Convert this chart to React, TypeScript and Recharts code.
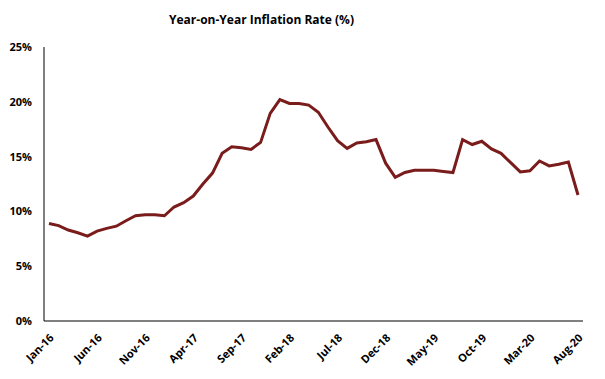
import React from 'react';
import { LineChart, Line, XAxis, YAxis } from 'recharts';

const months = [
  'Jan-16','Feb-16','Mar-16','Apr-16','May-16','Jun-16','Jul-16','Aug-16','Sep-16','Oct-16','Nov-16','Dec-16',
  'Jan-17','Feb-17','Mar-17','Apr-17','May-17','Jun-17','Jul-17','Aug-17','Sep-17','Oct-17','Nov-17','Dec-17',
  'Jan-18','Feb-18','Mar-18','Apr-18','May-18','Jun-18','Jul-18','Aug-18','Sep-18','Oct-18','Nov-18','Dec-18',
  'Jan-19','Feb-19','Mar-19','Apr-19','May-19','Jun-19','Jul-19','Aug-19','Sep-19','Oct-19','Nov-19','Dec-19',
  'Jan-20','Feb-20','Mar-20','Apr-20','May-20','Jun-20','Jul-20','Aug-20',
];

const inflation = [
  8.9, 8.7, 8.3, 8.05, 7.75, 8.2, 8.45, 8.65, 9.15, 9.6, 9.7, 9.7,
  9.6, 10.4, 10.8, 11.4, 12.5, 13.5, 15.3, 15.9, 15.8, 15.65, 16.3, 18.95,
  20.2, 19.85, 19.85, 19.7, 19.05, 17.7, 16.45, 15.75, 16.25, 16.35, 16.55, 14.4,
  13.1, 13.55, 13.75, 13.75, 13.75, 13.65, 13.55, 16.55, 16.1, 16.4, 15.7, 15.3,
  14.45, 13.6, 13.7, 14.6, 14.15, 14.3, 14.5, 11.5,
];

const yTicks = [0, 5, 10, 15, 20, 25];

const data = months.map((m, i) => ({ month: m, value: inflation[i] }));

const FONT = '"Open Sans", "Liberation Sans", sans-serif';

export default function App() {
  return (
    <div style={{ position: 'absolute', left: 0, top: 0, width: 605, height: 379, background: '#fff' }}>
      <div
        style={{
          position: 'absolute', left: 0, top: 11, width: 523, textAlign: 'center',
          fontFamily: FONT, fontWeight: 'bold', fontSize: 12, color: '#000',
        }}
      >
        Year-on-Year Inflation Rate (%)
      </div>
      <LineChart
        width={605}
        height={379}
        data={data}
        margin={{ top: 47, right: 22, bottom: 0, left: 0 }}
      >
        <XAxis
          dataKey="month"
          interval={4}
          angle={-45}
          textAnchor="end"
          height={58}
          tickLine={false}
          tickSize={0}
          tickMargin={12}
          padding={{ left: 5, right: 5 }}
          axisLine={{ stroke: '#000', strokeWidth: 1 }}
          tick={{ fill: '#000', fontSize: 11, fontWeight: 'bold', fontFamily: FONT }}
        />
        <YAxis
          domain={[0, 25]}
          ticks={yTicks}
          width={44}
          tickLine={false}
          tickSize={0}
          tickMargin={12}
          tickFormatter={(v: number) => `${v}%`}
          axisLine={{ stroke: '#000', strokeWidth: 1 }}
          tick={{ fill: '#000', fontSize: 11, fontWeight: 'bold', fontFamily: FONT }}
        />
        <Line
          type="linear"
          dataKey="value"
          stroke="#7B1C1C"
          strokeWidth={3}
          dot={false}
          isAnimationActive={false}
        />
      </LineChart>
    </div>
  );
}
